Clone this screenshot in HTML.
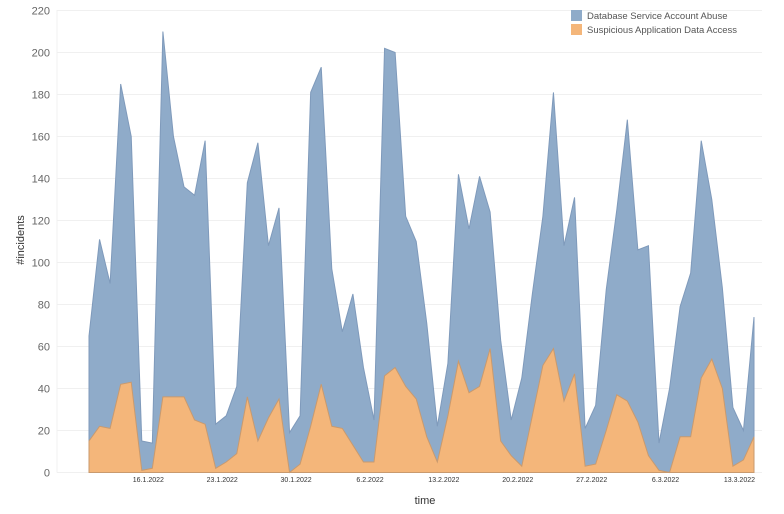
<!DOCTYPE html>
<html><head><meta charset="utf-8"><style>
body{margin:0;background:#fff;font-family:"Liberation Sans",sans-serif;}
svg{display:block}
</style></head><body>
<svg id="chart" width="784" height="514">
<g id="grid"></g>
<g id="areas"></g>
<g id="yticks"></g>
<g id="xticks"></g>
<text x="24" y="240" transform="rotate(-90 24 240)" text-anchor="middle" font-size="11" fill="#333">#incidents</text>
<text x="425" y="504" text-anchor="middle" font-size="11" fill="#333">time</text>
<g>
<g><rect x="571" y="10" width="11" height="11" fill="#8fabc9"/><text x="587" y="19" font-size="9.5" fill="#555">Database Service Account Abuse</text></g>
<g><rect x="571" y="24" width="11" height="11" fill="#f4b67a"/><text x="587" y="33" font-size="9.5" fill="#555">Suspicious Application Data Access</text></g>
</g>
</svg>
<script>
const totals=[65,111,90,185,160,15,14,210,160,136,132,158,23,27,41,138,157,108,126,19,27,181,193,97,67,85,50,25,202,200,122,110,71,22,52,142,116,141,124,63,25,45,85,122,181,108,131,21,32,87,125,168,106,108,14,40,79,95,158,130,88,31,20,74];
const suspicious=[15,22,21,42,43,1,2,36,36,36,25,23,2,5,9,36,15,26,35,0,4,22,42,22,21,13,5,5,46,50,41,35,17,5,27,53,38,41,59,15,8,3,27,51,59,34,47,3,4,20,37,34,24,8,1,0,17,17,45,54,40,3,6,17];
const yTicks=[0,20,40,60,80,100,120,140,160,180,200,220];
const xLabels=["16.1.2022","23.1.2022","30.1.2022","6.2.2022","13.2.2022","20.2.2022","27.2.2022","6.3.2022","13.3.2022"];
const xLabelIdx=[6,13,20,27,34,41,48,55,62];
const NS="http://www.w3.org/2000/svg";
const x0=89,x1=754,y0=472.5,pxU=2.1;
const n=totals.length;
const X=i=>x0+(x1-x0)*i/(n-1);
const Y=v=>y0-v*pxU;
function mk(t,a,p){const e=document.createElementNS(NS,t);for(const k in a)e.setAttribute(k,a[k]);p.appendChild(e);return e;}
const grid=document.getElementById('grid'),yt=document.getElementById('yticks'),xt=document.getElementById('xticks'),ar=document.getElementById('areas');
mk('line',{x1:57,y1:10,x2:57,y2:y0,stroke:'#f0f0f0'},grid);
yTicks.forEach(v=>{
 const l=mk('line',{x1:57,x2:762,y1:Y(v),y2:Y(v),stroke:'#f0f0f0'},grid);
 
 
 const t=mk('text',{x:50,y:Y(v)+4,'text-anchor':'end','font-size':11,fill:'#666'},yt);
 t.textContent=v;
 
 
});
xLabels.forEach((s,k)=>{
 const t=mk('text',{x:X(xLabelIdx[k])-4,y:482,'text-anchor':'middle','font-size':7,fill:'#333'},xt);
 t.textContent=s;
 
 
});
const topPts=totals.map((v,i)=>X(i)+','+Y(v)).join(' ');
const pb=mk('polygon',{points:X(0)+','+y0+' '+topPts+' '+X(n-1)+','+y0,fill:'#8fabc9',stroke:'#7f9abb','stroke-width':1},ar);


const soPts=suspicious.map((v,i)=>X(i)+','+Y(v)).join(' ');
const po=mk('polygon',{points:X(0)+','+y0+' '+soPts+' '+X(n-1)+','+y0,fill:'#f4b67a',stroke:'#c99a6e','stroke-width':1},ar);


</script>
</body></html>
